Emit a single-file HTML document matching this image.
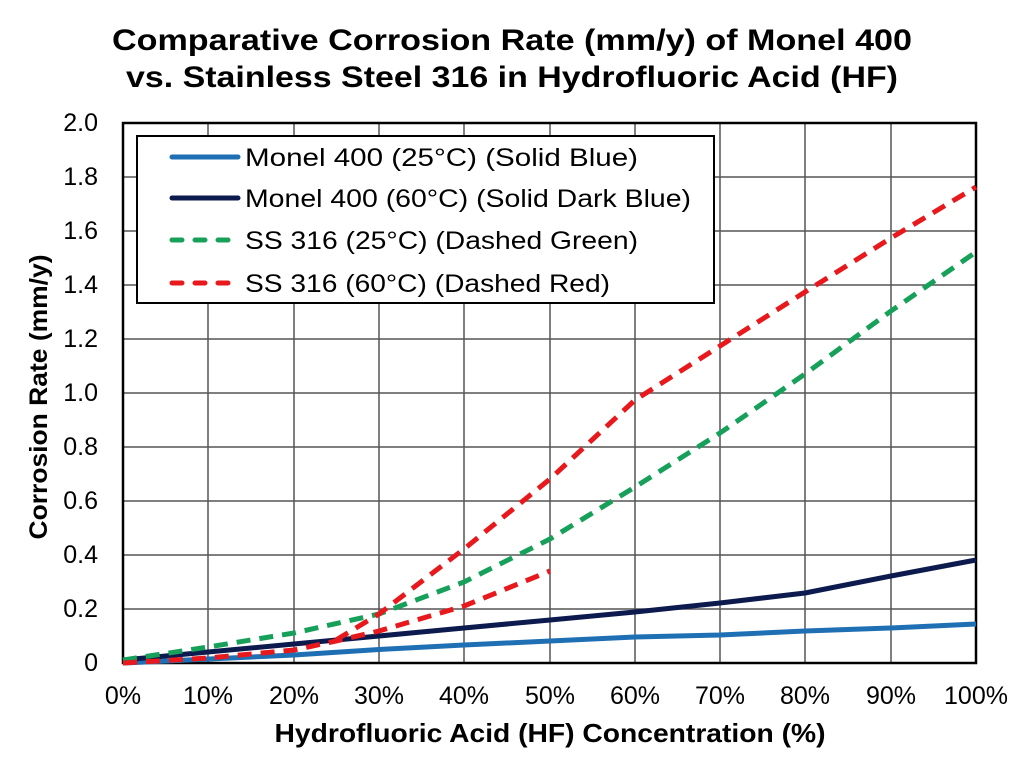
<!DOCTYPE html>
<html><head><meta charset="utf-8"><style>
html,body{margin:0;padding:0;background:#fff;}
svg{display:block;font-family:"Liberation Sans",Arial,sans-serif;}
</style></head><body>
<svg width="1024" height="765" viewBox="0 0 1024 765" xmlns="http://www.w3.org/2000/svg">
<rect width="1024" height="765" fill="#fff"/>
<text x="512" y="50" font-size="30" font-weight="bold" text-anchor="middle" textLength="800" lengthAdjust="spacingAndGlyphs">Comparative Corrosion Rate (mm/y) of Monel 400</text>
<text x="512" y="87" font-size="30" font-weight="bold" text-anchor="middle" textLength="772" lengthAdjust="spacingAndGlyphs">vs. Stainless Steel 316 in Hydrofluoric Acid (HF)</text>
<g stroke="#555" stroke-width="1.5">
<line x1="208" y1="123" x2="208" y2="663"/><line x1="294" y1="123" x2="294" y2="663"/><line x1="379" y1="123" x2="379" y2="663"/><line x1="464" y1="123" x2="464" y2="663"/><line x1="550" y1="123" x2="550" y2="663"/><line x1="635" y1="123" x2="635" y2="663"/><line x1="720" y1="123" x2="720" y2="663"/><line x1="805" y1="123" x2="805" y2="663"/><line x1="891" y1="123" x2="891" y2="663"/>
<line x1="123" y1="609" x2="976" y2="609"/><line x1="123" y1="555" x2="976" y2="555"/><line x1="123" y1="501" x2="976" y2="501"/><line x1="123" y1="447" x2="976" y2="447"/><line x1="123" y1="393" x2="976" y2="393"/><line x1="123" y1="339" x2="976" y2="339"/><line x1="123" y1="285" x2="976" y2="285"/><line x1="123" y1="231" x2="976" y2="231"/><line x1="123" y1="177" x2="976" y2="177"/>
</g>
<rect x="123" y="123" width="853" height="540" fill="none" stroke="#000" stroke-width="2.5"/>
<g fill="none" stroke-width="5" stroke-linejoin="round">
<polyline stroke="#1f6fb4" points="123,663 294,655 379,649.5 464,645 550,641 635,637 720,635 805,631 891,628 976,624"/>
<polyline stroke="#0c1a4e" points="123,660 208,652 294,644 379,636 464,628 550,620 635,612 720,603 805,593 891,576 976,560"/>
<polyline stroke="#17a05a" stroke-dasharray="14,9" points="123,660 208,647 294,633 379,614 464,582 550,539 635,487 720,433 805,374 891,311 976,252"/>
<polyline stroke="#e8191c" stroke-dasharray="14,9" points="123,663 208,658 294,650 336,641 379,631 464,606 550,571"/>
<polyline stroke="#e8191c" stroke-dasharray="14,9" points="336,640 379,614 464,549 550,479 635,400 720,346 805,292 891,238 976,187"/>
</g>
<rect x="137" y="136" width="577" height="167" fill="#fff" stroke="#000" stroke-width="2"/>
<g stroke-width="5" stroke-linecap="round">
<line x1="172" y1="157" x2="238" y2="157" stroke="#1f6fb4"/>
<line x1="172" y1="198" x2="238" y2="198" stroke="#0c1a4e"/>
<line x1="172" y1="240" x2="238" y2="240" stroke="#17a05a" stroke-dasharray="10,13"/>
<line x1="172" y1="283" x2="238" y2="283" stroke="#e8191c" stroke-dasharray="10,13"/>
</g>
<g font-size="25" lengthAdjust="spacingAndGlyphs">
<text x="245" y="166" textLength="393" lengthAdjust="spacingAndGlyphs">Monel 400 (25°C) (Solid Blue)</text>
<text x="245" y="207" textLength="446" lengthAdjust="spacingAndGlyphs">Monel 400 (60°C) (Solid Dark Blue)</text>
<text x="245" y="249" textLength="393" lengthAdjust="spacingAndGlyphs">SS 316 (25°C) (Dashed Green)</text>
<text x="245" y="292" textLength="365" lengthAdjust="spacingAndGlyphs">SS 316 (60°C) (Dashed Red)</text>
</g>
<g font-size="25" text-anchor="end">
<text x="98" y="131">2.0</text><text x="98" y="185">1.8</text><text x="98" y="239">1.6</text><text x="98" y="293">1.4</text><text x="98" y="347">1.2</text><text x="98" y="401">1.0</text><text x="98" y="455">0.8</text><text x="98" y="509">0.6</text><text x="98" y="563">0.4</text><text x="98" y="617">0.2</text><text x="98" y="671">0</text>
</g>
<g font-size="25" text-anchor="middle">
<text x="123" y="704">0%</text><text x="208" y="704">10%</text><text x="294" y="704">20%</text><text x="379" y="704">30%</text><text x="464" y="704">40%</text><text x="550" y="704">50%</text><text x="635" y="704">60%</text><text x="720" y="704">70%</text><text x="805" y="704">80%</text><text x="891" y="704">90%</text><text x="976" y="704">100%</text>
</g>
<text x="550" y="742" font-size="26" font-weight="bold" text-anchor="middle" textLength="551" lengthAdjust="spacingAndGlyphs">Hydrofluoric Acid (HF) Concentration (%)</text>
<text transform="translate(47,397) rotate(-90)" font-size="25" font-weight="bold" text-anchor="middle" textLength="285" lengthAdjust="spacingAndGlyphs">Corrosion Rate (mm/y)</text>
</svg>
</body></html>
